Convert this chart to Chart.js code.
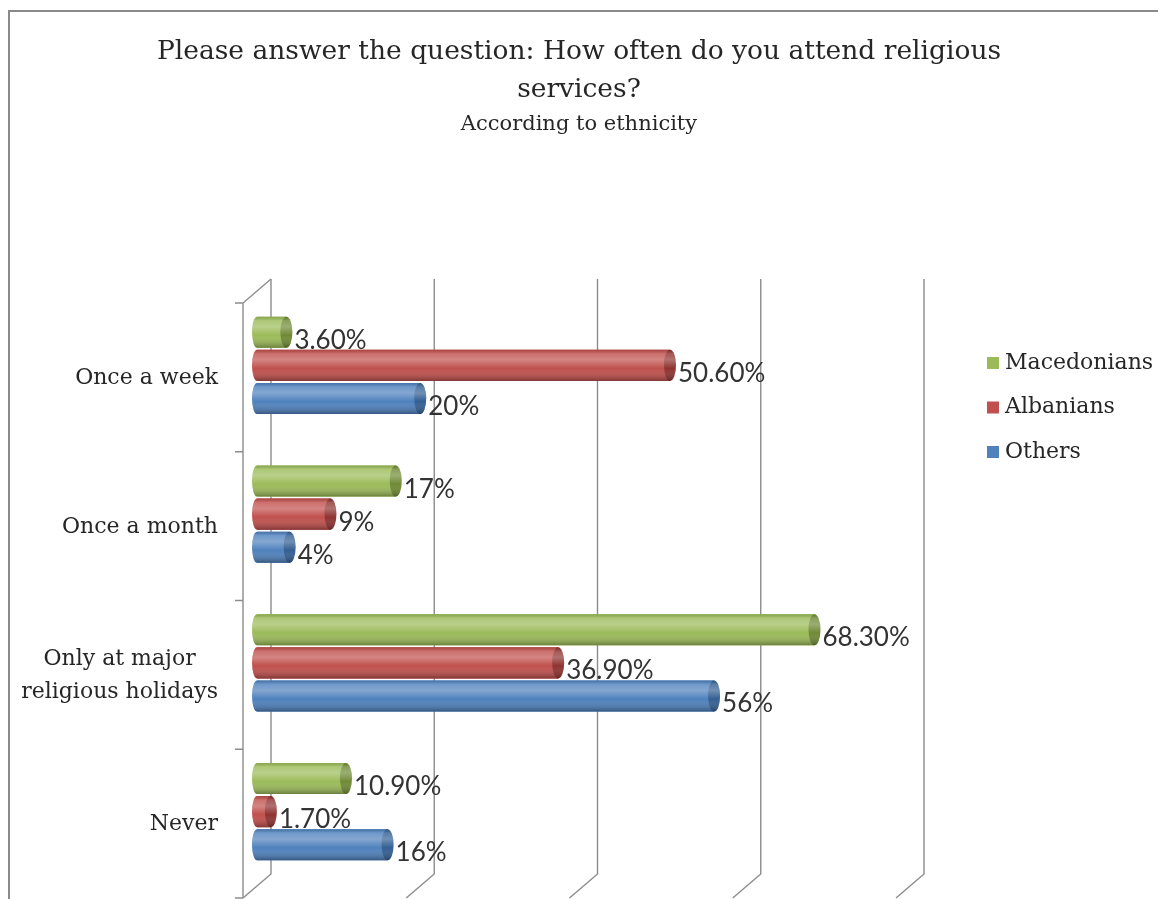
<!DOCTYPE html>
<html>
<head>
<meta charset="utf-8">
<script src="https://cdn.jsdelivr.net/npm/chart.js@4.4.0/dist/chart.umd.min.js"></script>
<style>
  html, body { margin: 0; padding: 0; background: #fff; }
</style>
</head>
<body>
<canvas id="chart" width="1158" height="899"></canvas>
<script>
// data
const categories = ['Once a week', 'Once a month', ['Only at major', 'religious holidays'], 'Never'];
const seriesNames = ['Macedonians', 'Albanians', 'Others'];
const macedonians = [3.6, 17, 68.3, 10.9];
const albanians = [50.6, 9, 36.9, 1.7];
const others = [20, 4, 56, 16];
const macedoniansLabels = ['3.60%', '17%', '68.30%', '10.90%'];
const albaniansLabels = ['50.60%', '9%', '36.90%', '1.70%'];
const othersLabels = ['20%', '4%', '56%', '16%'];
const xTicks = [0, 20, 40, 60, 80];

const colors = ['#9bbb59', '#c0504d', '#4f81bd'];
const capColors = ['#6f8a35', '#8e3330', '#335f93'];
const valueLabels = [macedoniansLabels, albaniansLabels, othersLabels];

const serif = '"DejaVu Serif", serif';
const DX = 14, DY = 12; // half depth of the fake 3d floor

function sheen(ctx, top, bot) {
  const g = ctx.createLinearGradient(0, top, 0, bot);
  g.addColorStop(0, 'rgba(0,0,0,0.10)');
  g.addColorStop(0.12, 'rgba(255,255,255,0.18)');
  g.addColorStop(0.32, 'rgba(255,255,255,0.30)');
  g.addColorStop(0.6, 'rgba(255,255,255,0)');
  g.addColorStop(1, 'rgba(0,0,0,0.32)');
  return g;
}

// frame + walls + gridlines behind the bars
const walls = {
  id: 'walls',
  beforeDraw(chart) {
    const ctx = chart.ctx;
    ctx.save();
    ctx.fillStyle = '#fff';
    ctx.fillRect(0, 0, chart.width, chart.height);
    ctx.strokeStyle = '#8a8a8a';
    ctx.lineWidth = 2;
    ctx.beginPath();
    ctx.moveTo(9, chart.height);
    ctx.lineTo(9, 11);
    ctx.lineTo(chart.width, 11);
    ctx.stroke();
    ctx.restore();
  },
  beforeDatasetsDraw(chart) {
    const { ctx, chartArea: a, scales: { x, y } } = chart;
    ctx.save();
    ctx.strokeStyle = '#8c8c8c';
    ctx.lineWidth = 1.4;
    xTicks.forEach(v => {
      const px = x.getPixelForValue(v);
      ctx.beginPath();
      ctx.moveTo(px + DX, a.top - DY);
      ctx.lineTo(px + DX, a.bottom - DY);
      ctx.lineTo(px - DX, a.bottom + DY);
      ctx.stroke();
    });
    const lx = x.getPixelForValue(0);
    ctx.beginPath();
    ctx.moveTo(lx + DX, a.top - DY);
    ctx.lineTo(lx - DX, a.top + DY);
    ctx.lineTo(lx - DX, a.bottom + DY);
    for (let i = 0; i <= categories.length; i++) {
      const py = y.getPixelForValue(i - 0.5) + DY;
      ctx.moveTo(lx - DX, py);
      ctx.lineTo(lx - DX - 8, py);
    }
    ctx.stroke();

    // category labels, right aligned block, lines centred in it
    ctx.fillStyle = '#262626';
    ctx.font = '22px ' + serif;
    ctx.textBaseline = 'middle';
    const right = lx - DX - 25;
    categories.forEach((c, i) => {
      const lines = Array.isArray(c) ? c : [c];
      const w = Math.max(...lines.map(l => ctx.measureText(l).width));
      const cy = y.getPixelForValue(i) + 13;
      const lh = 33;
      lines.forEach((l, k) => {
        ctx.textAlign = 'center';
        ctx.fillText(l, right - w / 2, cy + (k - (lines.length - 1) / 2) * lh);
      });
    });
    ctx.restore();
  },
  afterDatasetsDraw(chart) {
    const ctx = chart.ctx;
    chart.data.datasets.forEach((ds, di) => {
      const meta = chart.getDatasetMeta(di);
      meta.data.forEach((el, i) => {
        const { x, y, base, height } = el.getProps(['x', 'y', 'base', 'height'], true);
        const top = y - height / 2, bot = y + height / 2, r = height / 2;
        ctx.save();
        ctx.beginPath();
        ctx.ellipse(base, y, 5, r, 0, Math.PI / 2, Math.PI * 1.5);
        ctx.lineTo(x, top);
        ctx.lineTo(x, bot);
        ctx.closePath();
        ctx.fillStyle = colors[di];
        ctx.fill();
        ctx.fillStyle = sheen(ctx, top, bot);
        ctx.fill();
        ctx.beginPath();
        ctx.ellipse(x, y, 6, r, 0, 0, Math.PI * 2);
        ctx.fillStyle = capColors[di];
        ctx.fill();
        ctx.fillStyle = sheen(ctx, top, bot);
        ctx.fill();

        ctx.fillStyle = '#333';
        ctx.font = '26px Lato, sans-serif';
        ctx.textAlign = 'left';
        ctx.textBaseline = 'alphabetic';
        ctx.fillText(valueLabels[di][i], x + 8, bot + 1);
        ctx.restore();
      });
    });
  },
  afterDraw(chart) {
    const ctx = chart.ctx;
    ctx.save();
    ctx.font = '22px ' + serif;
    ctx.textBaseline = 'middle';
    ctx.textAlign = 'left';
    chart.data.datasets.forEach((ds, i) => {
      const cy = 363 + i * 44.5;
      ctx.fillStyle = colors[i];
      ctx.fillRect(987, cy - 6, 12, 12);
      ctx.fillStyle = '#262626';
      ctx.fillText(ds.label, 1005, cy);
    });
    ctx.restore();
  }
};

new Chart(document.getElementById('chart'), {
  type: 'bar',
  data: {
    labels: categories,
    datasets: [
      { label: seriesNames[0], data: macedonians, backgroundColor: colors[0] },
      { label: seriesNames[1], data: albanians, backgroundColor: colors[1] },
      { label: seriesNames[2], data: others, backgroundColor: colors[2] }
    ]
  },
  options: {
    indexAxis: 'y',
    responsive: false,
    animation: false,
    categoryPercentage: 0.667,
    barPercentage: 0.94,
    layout: { padding: 0 },
    scales: {
      x: {
        min: 0, max: 80,
        ticks: { display: false, stepSize: 20 },
        grid: { display: false },
        border: { display: false },
        afterFit(s) { s.height = 13; }
      },
      y: {
        ticks: { display: false },
        grid: { display: false },
        border: { display: false },
        afterFit(s) { s.width = 257; }
      },
      yRight: {
        type: 'category',
        labels: categories,
        position: 'right',
        ticks: { display: false },
        grid: { display: false },
        border: { display: false },
        afterFit(s) { s.width = 248; }
      }
    },
    plugins: {
      legend: { display: false },
      tooltip: { enabled: false },
      title: {
        display: true,
        text: ['Please answer the question: How often do you attend religious', 'services?'],
        color: '#262626',
        font: { family: serif, size: 26.5, weight: 'normal', lineHeight: 1.43 },
        padding: { top: 33, bottom: 0 }
      },
      subtitle: {
        display: true,
        text: 'According to ethnicity',
        color: '#262626',
        font: { family: serif, size: 21, weight: 'normal', lineHeight: 1.2 },
        padding: { top: 3, bottom: 154 }
      }
    }
  },
  plugins: [walls]
});
</script>
</body>
</html>
